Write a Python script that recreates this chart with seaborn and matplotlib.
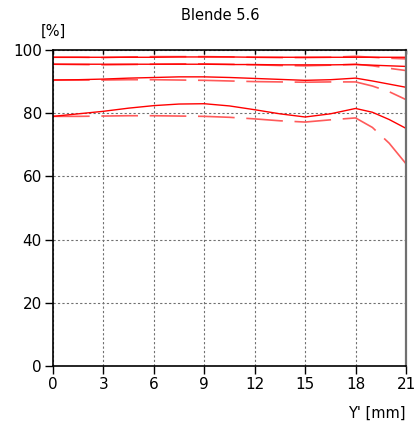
import pandas as pd
import seaborn as sns
import matplotlib.pyplot as plt
import matplotlib.lines as mlines

# Image height positions Y' [mm]
x_mm = [0, 1.5, 3, 4.5, 6, 7.5, 9, 10.5, 12, 13.5, 15, 16.5, 18, 19, 20, 21]

# MTF values [%], solid = sagittal, dashed = tangential
sag_10 = [97.7, 97.7, 97.7, 97.7, 97.7, 97.8, 97.8, 97.8, 97.7, 97.7, 97.7, 97.7, 97.7, 97.7, 97.7, 97.7]
tan_10 = [97.7, 97.7, 97.6, 97.8, 97.9, 97.9, 97.9, 97.8, 97.7, 97.6, 97.6, 97.7, 98.0, 97.7, 97.4, 97.2]
sag_20 = [95.5, 95.5, 95.5, 95.5, 95.5, 95.5, 95.5, 95.4, 95.4, 95.3, 95.3, 95.3, 95.4, 95.2, 95.0, 94.8]
tan_20 = [95.5, 95.4, 95.3, 95.4, 95.5, 95.6, 95.6, 95.5, 95.3, 95.1, 95.0, 95.2, 95.5, 95.0, 94.2, 93.5]
sag_30 = [90.5, 90.6, 90.8, 91.1, 91.3, 91.5, 91.5, 91.3, 91.0, 90.7, 90.4, 90.6, 91.1, 90.2, 89.2, 88.2]
tan_30 = [90.5, 90.5, 90.5, 90.6, 90.6, 90.5, 90.4, 90.2, 90.0, 89.9, 89.8, 89.9, 89.9, 88.6, 86.8, 84.3]
sag_40 = [79.0, 79.8, 80.6, 81.6, 82.4, 82.9, 83.0, 82.3, 81.1, 79.8, 78.8, 79.8, 81.5, 80.3, 78.0, 75.2]
tan_40 = [79.0, 79.0, 79.1, 79.2, 79.2, 79.1, 79.0, 78.7, 78.2, 77.6, 77.2, 77.9, 78.5, 75.5, 70.5, 64.0]

solid_series = [sag_10, sag_20, sag_30, sag_40]
dashed_series = [tan_10, tan_20, tan_30, tan_40]

sns.set_theme(style="white")
plt.rcParams["font.family"] = ["DejaVu Sans"]

fig = plt.figure(figsize=(4.17, 4.32), dpi=100)
ax = fig.add_axes([53 / 417, 1 - 366 / 432, 353 / 417, 316 / 432])

# dashed (tangential) lines
for vals in dashed_series:
    df = pd.DataFrame({"x": x_mm, "y": vals})
    sns.lineplot(data=df, x="x", y="y", ax=ax, color="#ff5a5a", linewidth=1.2)
    ax.lines[-1].set_dashes((22, 7))

# solid (sagittal) lines
for vals in solid_series:
    df = pd.DataFrame({"x": x_mm, "y": vals})
    sns.lineplot(data=df, x="x", y="y", ax=ax, color="#ff0000", linewidth=1.0)

ax.set_xlim(0, 21)
ax.set_ylim(0, 100)
ax.set_xticks(range(0, 22, 3))
ax.set_yticks(range(0, 101, 20))
ax.set_xlabel("")
ax.set_ylabel("")

ax.grid(True, color="#707070", linestyle=(0, (2, 2)), linewidth=0.8)
ax.set_axisbelow(True)

for side in ["left", "bottom", "top"]:
    ax.spines[side].set_color("black")
    ax.spines[side].set_linewidth(1.2)
ax.spines["right"].set_color("#707070")
ax.spines["right"].set_linewidth(1.6)

ax.tick_params(axis="both", direction="out", length=6, width=1,
               color="black", labelcolor="black", labelsize=11, pad=2,
               left=True, bottom=True)
ax.tick_params(axis="x", top=True, labeltop=False)
# small inward ticks along the top edge
for tick in ax.xaxis.get_major_ticks():
    tick.tick2line.set_marker(mlines.TICKDOWN)
    tick.tick2line.set_markersize(3)

fig.text(220 / 417, 1 - 16 / 432, "Blende 5.6", ha="center", va="center",
         fontsize=10.5, color="black")
fig.text(53 / 417, 1 - 31 / 432, "[%]", ha="center", va="center",
         fontsize=10.5, color="black")
fig.text(406 / 417, 1 - 413 / 432, "Y' [mm]", ha="right", va="center",
         fontsize=10.5, color="black")

fig.savefig("out.png", dpi=100)
